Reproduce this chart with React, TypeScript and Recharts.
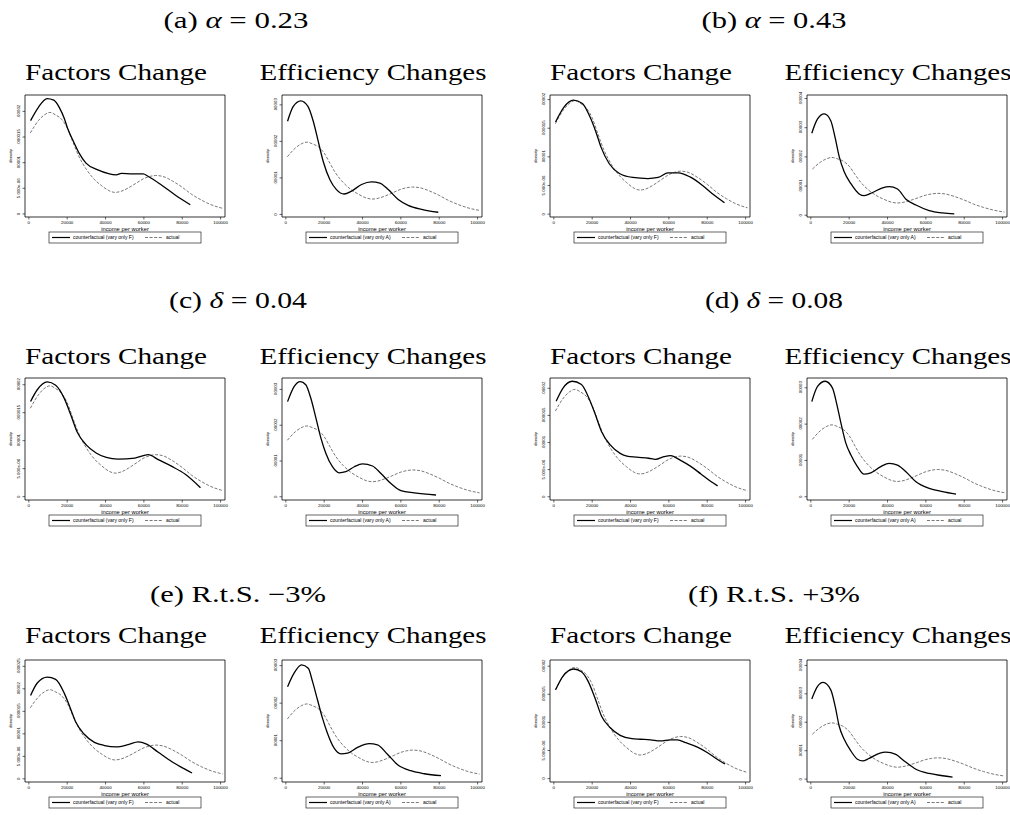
import { LineChart, Line, XAxis, YAxis, ReferenceArea } from "recharts";

type Pt = [number, number];

// x = income per worker, y = density in units of 1e-5
const incomeTicks = [0, 20000, 40000, 60000, 80000, 100000];
const factorTicks = [0, 0.5, 1, 1.5, 2];
const factorTicksTall = [0, 0.5, 1, 1.5, 2, 2.5];
const effTicks = [0, 1, 2, 3];
const effTicksTall = [0, 1, 2, 3, 4];
const tickLabels: Record<string, string> = {
  "0": "0",
  "0.5": "5.000e-06",
  "1": ".00001",
  "1.5": ".000015",
  "2": ".00002",
  "2.5": ".000025",
  "3": ".00003",
  "4": ".00004",
};

// actual distribution (dashed), same in every panel
const actual: Pt[] = [
  [800, 1.58], [5000, 1.82], [8000, 1.93], [11000, 1.98], [14000, 1.93], [17000, 1.85],
  [20000, 1.68], [23000, 1.4], [26000, 1.13], [30000, 0.87], [34000, 0.68], [38000, 0.55],
  [42000, 0.45], [45000, 0.42], [48000, 0.44], [52000, 0.51], [56000, 0.6], [60000, 0.69],
  [63000, 0.73], [66000, 0.75], [70000, 0.73], [75000, 0.64], [80000, 0.52], [85000, 0.38],
  [90000, 0.27], [95000, 0.18], [101000, 0.11],
];

// counterfactuals (solid)
const cfAlpha23F: Pt[] = [
  [900, 1.82], [5000, 2.08], [9500, 2.25], [13000, 2.22], [16000, 2.07], [18500, 1.86],
  [20200, 1.67], [23700, 1.38], [26300, 1.18], [29800, 0.99], [36000, 0.86], [41200, 0.79],
  [45600, 0.76], [48200, 0.79], [54000, 0.78], [59600, 0.78], [62300, 0.73], [69300, 0.56],
  [76300, 0.37], [84200, 0.18],
];
const cfAlpha23A: Pt[] = [
  [900, 2.55], [3800, 2.95], [7800, 3.11], [11600, 2.95], [14300, 2.55], [16900, 2.0],
  [19500, 1.45], [23000, 0.95], [26400, 0.68], [30400, 0.56], [34300, 0.64], [39500, 0.82],
  [44700, 0.89], [49000, 0.86], [53400, 0.68], [58600, 0.41], [63800, 0.25], [70800, 0.14],
  [79500, 0.06],
];
const cfAlpha43F: Pt[] = [
  [900, 1.61], [5300, 1.87], [10200, 1.99], [14900, 1.93], [18400, 1.73], [21900, 1.44],
  [24600, 1.17], [28900, 0.88], [34200, 0.71], [41200, 0.64], [49100, 0.62], [54400, 0.64],
  [59600, 0.72], [64900, 0.72], [71000, 0.65], [77200, 0.51], [82500, 0.36], [89000, 0.2],
];
const cfAlpha43A: Pt[] = [
  [500, 2.81], [3500, 3.3], [7000, 3.47], [10400, 3.24], [12700, 2.65], [14800, 2.01],
  [17400, 1.49], [20900, 1.08], [25200, 0.73], [27800, 0.67], [32200, 0.78], [37400, 0.94],
  [40900, 0.98], [45200, 0.9], [49600, 0.55], [54800, 0.35], [61700, 0.16], [68700, 0.08],
  [74800, 0.05],
];
const cfDelta04F: Pt[] = [
  [900, 1.7], [4400, 1.91], [9600, 2.05], [14000, 1.99], [18400, 1.76], [21900, 1.46],
  [25400, 1.14], [29800, 0.93], [35100, 0.78], [40400, 0.7], [46500, 0.67], [55300, 0.69],
  [62300, 0.75], [67500, 0.66], [74600, 0.54], [81600, 0.4], [89500, 0.16],
];
const cfDelta04A: Pt[] = [
  [900, 2.66], [4300, 3.08], [7500, 3.22], [10400, 3.13], [13000, 2.76], [15700, 2.2],
  [18300, 1.64], [20900, 1.21], [24300, 0.84], [27800, 0.67], [31300, 0.7], [35700, 0.84],
  [40000, 0.92], [45200, 0.86], [49600, 0.65], [54800, 0.37], [60000, 0.17], [67000, 0.11],
  [78300, 0.05],
];
const cfDelta08F: Pt[] = [
  [1200, 1.76], [4700, 2.0], [9600, 2.13], [14400, 2.07], [17900, 1.85], [21400, 1.54],
  [24900, 1.2], [29300, 0.96], [34600, 0.8], [38100, 0.75], [43300, 0.73], [49500, 0.71],
  [53000, 0.69], [57400, 0.74], [60900, 0.76], [66100, 0.67], [71400, 0.56], [76700, 0.42],
  [81900, 0.28], [85400, 0.2],
];
const cfDelta08A: Pt[] = [
  [500, 2.62], [3500, 3.04], [7500, 3.18], [11300, 2.99], [13400, 2.58], [15700, 2.03],
  [18300, 1.47], [20900, 1.15], [24300, 0.83], [27800, 0.62], [31300, 0.66], [36500, 0.83],
  [40900, 0.92], [45200, 0.87], [49600, 0.69], [54800, 0.41], [61700, 0.23], [68700, 0.14],
  [75700, 0.07],
];
const cfRtsMinusF: Pt[] = [
  [900, 1.85], [4400, 2.13], [9600, 2.26], [14000, 2.21], [18400, 1.91], [21900, 1.54],
  [24600, 1.25], [28900, 0.99], [34200, 0.81], [39500, 0.74], [45600, 0.71], [51800, 0.76],
  [57000, 0.82], [61400, 0.77], [67500, 0.59], [74600, 0.38], [81600, 0.21], [85100, 0.13],
];
const cfRtsMinusA: Pt[] = [
  [900, 2.44], [4300, 2.8], [8200, 3.02], [11700, 2.93], [13900, 2.58], [16500, 2.09],
  [19100, 1.6], [21700, 1.2], [25200, 0.8], [28700, 0.65], [32200, 0.67], [37400, 0.82],
  [43500, 0.92], [47800, 0.89], [53000, 0.64], [58300, 0.36], [65200, 0.2], [72200, 0.12],
  [80900, 0.07],
];
const cfRtsPlusF: Pt[] = [
  [900, 1.58], [4700, 1.82], [10400, 1.95], [14400, 1.9], [17900, 1.73], [21400, 1.44],
  [24900, 1.11], [29300, 0.91], [34600, 0.77], [40700, 0.71], [45100, 0.7], [50400, 0.69],
  [55600, 0.67], [60900, 0.69], [64400, 0.69], [68800, 0.64], [74900, 0.56], [80200, 0.46],
  [85400, 0.34], [89300, 0.26],
];
const cfRtsPlusA: Pt[] = [
  [500, 2.82], [3500, 3.26], [6400, 3.4], [10400, 3.14], [12700, 2.56], [14800, 1.86],
  [17400, 1.4], [20900, 0.99], [24300, 0.7], [27000, 0.64], [30400, 0.73], [35700, 0.91],
  [39100, 0.95], [44300, 0.87], [48700, 0.64], [54800, 0.35], [61700, 0.2], [68700, 0.12],
  [73900, 0.07],
];

const sans = "'Liberation Sans', Arial, sans-serif";
const serif = "'Liberation Serif', 'Times New Roman', serif";
const xDomain: [number, number] = [-2000, 102300];
const BOX_W = 200;
const BOX_H = 122;
const colLeft = [25, 282, 550, 807];
const rowTop = [95, 378, 660];

type PanelCfg = {
  row: number;
  col: number;
  kind: "F" | "A";
  yMin: number;
  yMax: number;
  ticks: number[];
  cf: Pt[];
};

const panels: PanelCfg[] = [
  { row: 0, col: 0, kind: "F", yMin: -0.06, yMax: 2.32, ticks: factorTicks, cf: cfAlpha23F },
  { row: 0, col: 1, kind: "A", yMin: -0.07, yMax: 3.27, ticks: effTicks, cf: cfAlpha23A },
  { row: 0, col: 2, kind: "F", yMin: -0.05, yMax: 2.08, ticks: factorTicks, cf: cfAlpha43F },
  { row: 0, col: 3, kind: "A", yMin: -0.06, yMax: 4.12, ticks: effTicksTall, cf: cfAlpha43A },
  { row: 1, col: 0, kind: "F", yMin: -0.06, yMax: 2.12, ticks: factorTicks, cf: cfDelta04F },
  { row: 1, col: 1, kind: "A", yMin: -0.09, yMax: 3.32, ticks: effTicks, cf: cfDelta04A },
  { row: 1, col: 2, kind: "F", yMin: -0.06, yMax: 2.19, ticks: factorTicks, cf: cfDelta08F },
  { row: 1, col: 3, kind: "A", yMin: -0.09, yMax: 3.27, ticks: effTicks, cf: cfDelta08A },
  { row: 2, col: 0, kind: "F", yMin: -0.07, yMax: 2.64, ticks: factorTicksTall, cf: cfRtsMinusF },
  { row: 2, col: 1, kind: "A", yMin: -0.1, yMax: 3.15, ticks: effTicks, cf: cfRtsMinusA },
  { row: 2, col: 2, kind: "F", yMin: -0.06, yMax: 2.11, ticks: factorTicks, cf: cfRtsPlusF },
  { row: 2, col: 3, kind: "A", yMin: -0.1, yMax: 4.19, ticks: effTicksTall, cf: cfRtsPlusA },
];

const captions = [
  { x: 236, y: 28, label: "(a) ", greek: "α", rest: " = 0.23", len: 145 },
  { x: 774, y: 28, label: "(b) ", greek: "α", rest: " = 0.43", len: 145 },
  { x: 238, y: 308, label: "(c) ", greek: "δ", rest: " = 0.04", len: 138 },
  { x: 774, y: 308, label: "(d) ", greek: "δ", rest: " = 0.08", len: 138 },
  { x: 238, y: 602, label: "(e) R.t.S. ", greek: "", rest: "−3%", len: 176 },
  { x: 774, y: 602, label: "(f) R.t.S. ", greek: "", rest: "+3%", len: 172 },
];
const titleBase = [80, 364, 643];

const toRows = (pts: Pt[]) => pts.map(([x, y]) => ({ x, y }));

function YTick(props: any) {
  const { x, y, payload } = props;
  const bx = x - 0.9;
  return (
    <text
      x={bx}
      y={y}
      transform={`rotate(-90 ${bx} ${y})`}
      textAnchor="middle"
      fontSize={4.4}
      fontFamily={sans}
      fill="#000"
    >
      {tickLabels[String(payload.value)] ?? String(payload.value)}
    </text>
  );
}

function YTitle(props: any) {
  const vb = props.viewBox || { x: 0, y: 4, width: 25, height: BOX_H };
  const bx = vb.x + vb.width - 12.9;
  const cy = vb.y + vb.height / 2;
  return (
    <text x={bx} y={cy} transform={`rotate(-90 ${bx} ${cy})`} textAnchor="middle" fontSize={4.4} fontFamily={sans} fill="#000">
      density
    </text>
  );
}

function XTitle(props: any) {
  const vb = props.viewBox || { x: 25, y: 126, width: BOX_W, height: 20 };
  return (
    <text x={vb.x + vb.width / 2} y={vb.y + 14.3} textAnchor="middle" fontSize={5.8} fontFamily={sans} fill="#000">
      income per worker
    </text>
  );
}

function Panel({ p }: { p: PanelCfg }) {
  const left = colLeft[p.col];
  const top = rowTop[p.row];
  return (
    <div style={{ position: "absolute", left: left - 25, top: top - 4 }}>
      <LineChart width={25 + BOX_W + 5} height={4 + BOX_H + 20} margin={{ top: 4, right: 5, bottom: 0, left: 0 }}>
        <XAxis
          type="number"
          dataKey="x"
          domain={xDomain}
          ticks={incomeTicks}
          interval={0}
          allowDataOverflow
          axisLine={false}
          tickLine={{ stroke: "#000", strokeWidth: 0.6 }}
          tickSize={2.5}
          tickMargin={1}
          height={20}
          tick={{ fontSize: 4.4, fill: "#000", fontFamily: sans }}
          label={{ content: XTitle }}
        />
        <YAxis
          type="number"
          domain={[p.yMin, p.yMax]}
          ticks={p.ticks}
          interval={0}
          allowDataOverflow
          axisLine={false}
          tickLine={{ stroke: "#000", strokeWidth: 0.6 }}
          tickSize={2.5}
          tickMargin={2}
          width={25}
          tick={<YTick />}
          label={{ content: YTitle }}
        />
        <ReferenceArea x1={xDomain[0]} x2={xDomain[1]} y1={p.yMin} y2={p.yMax} fill="none" fillOpacity={0} stroke="#000" strokeWidth={0.8} />
        <Line
          data={toRows(actual)}
          dataKey="y"
          type="monotone"
          stroke="#555"
          strokeWidth={0.8}
          strokeDasharray="3 1.6"
          dot={false}
          isAnimationActive={false}
        />
        <Line
          data={toRows(p.cf)}
          dataKey="y"
          type="monotone"
          stroke="#000"
          strokeWidth={1.3}
          dot={false}
          isAnimationActive={false}
        />
      </LineChart>
    </div>
  );
}

function PanelLegend({ p }: { p: PanelCfg }) {
  const x = colLeft[p.col] + 100 - 76;
  const y = rowTop[p.row] + BOX_H + 15;
  const cy = y + 5.5;
  return (
    <g>
      <rect x={x} y={y} width={152} height={11} fill="#fff" stroke="#000" strokeWidth={0.6} />
      <line x1={x + 3} x2={x + 21} y1={cy} y2={cy} stroke="#000" strokeWidth={1.2} />
      <text x={x + 24} y={cy + 1.8} fontSize={5} fontFamily={sans} fill="#000">
        {`counterfactual (vary only ${p.kind})`}
      </text>
      <line x1={x + 96} x2={x + 114} y1={cy} y2={cy} stroke="#555" strokeWidth={0.8} strokeDasharray="3 1.6" />
      <text x={x + 117} y={cy + 1.8} fontSize={5} fontFamily={sans} fill="#000">
        actual
      </text>
    </g>
  );
}

export default function App() {
  return (
    <div style={{ position: "absolute", left: 0, top: 0, width: 1010, height: 815, background: "#fff", overflow: "hidden" }}>
      <svg width={1010} height={815} style={{ position: "absolute", left: 0, top: 0 }}>
        {captions.map((c) => (
          <text
            key={c.label + c.rest}
            x={c.x}
            y={c.y}
            textAnchor="middle"
            fontFamily={serif}
            fontSize={23}
            textLength={c.len}
            lengthAdjust="spacingAndGlyphs"
            fill="#000"
          >
            {c.label}
            {c.greek ? <tspan fontStyle="italic">{c.greek}</tspan> : null}
            {c.rest}
          </text>
        ))}
        {panels.map((p) => (
          <text
            key={`t${p.row}${p.col}`}
            x={colLeft[p.col] + 91}
            y={titleBase[p.row]}
            textAnchor="middle"
            fontFamily={serif}
            fontSize={23}
            textLength={p.kind === "F" ? 182 : 227}
            lengthAdjust="spacingAndGlyphs"
            fill="#000"
          >
            {p.kind === "F" ? "Factors Change" : "Efficiency Changes"}
          </text>
        ))}
        {panels.map((p) => (
          <PanelLegend key={`l${p.row}${p.col}`} p={p} />
        ))}
      </svg>
      {panels.map((p) => (
        <Panel key={`p${p.row}${p.col}`} p={p} />
      ))}
    </div>
  );
}
